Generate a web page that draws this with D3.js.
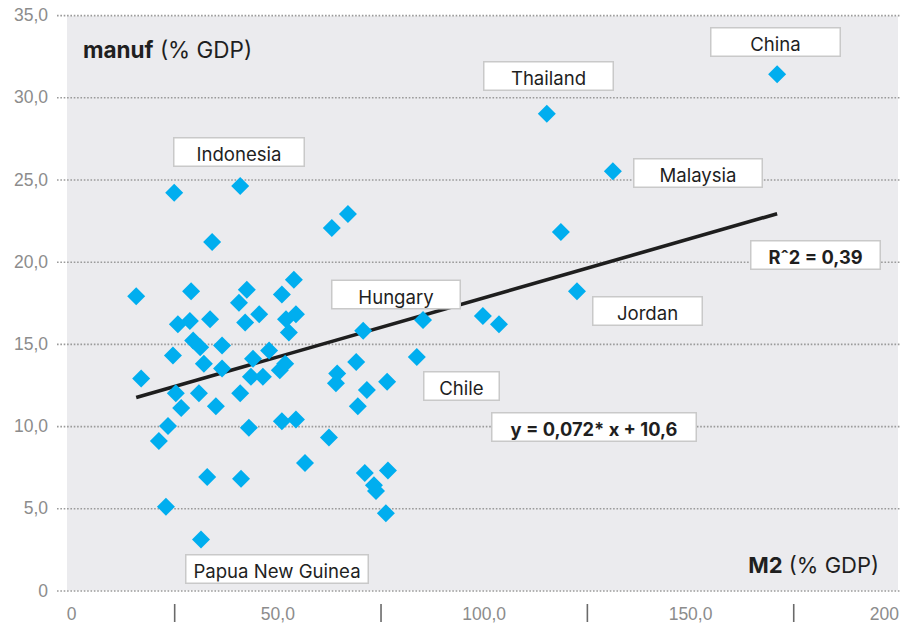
<!DOCTYPE html>
<html>
<head>
<meta charset="utf-8">
<script src="https://cdn.jsdelivr.net/npm/d3@7"></script>
<style>
  html, body { margin: 0; padding: 0; background: #ffffff; }
  svg { display: block; font-family: Inter, Roboto, "DejaVu Sans", sans-serif; }
</style>
</head>
<body>
<svg id="chart" width="914" height="628"></svg>
<script>
// ---- Data (M2 % GDP vs manufacturing % GDP) ----
const m2 = [15.8, 17.0, 21.3, 23.0, 23.5, 25.0, 24.7, 25.4, 25.9, 26.7,
            28.8, 29.1, 29.6, 31.0, 31.3, 32.2, 33.0, 33.7, 34.2, 35.1,
            36.6, 36.6, 40.7, 41.0, 41.0, 41.2, 42.2, 42.6, 43.1, 43.6,
            44.1, 45.6, 46.5, 48.0, 50.6, 51.9, 51.1, 51.1, 52.1, 52.8,
            54.0, 54.5, 54.5, 56.7, 62.5, 63.2, 64.2, 64.5, 67.1, 69.1,
            69.5, 70.8, 71.2, 71.7, 73.4, 73.9, 76.3, 76.6, 76.8, 83.8,
            85.3, 99.8, 103.7, 115.3, 118.7, 122.6, 131.3, 171.1, 31.5];
const manuf = [17.9, 12.9, 9.1, 5.1, 10.0, 24.2, 14.3, 12.0, 16.2, 11.1,
               16.4, 18.2, 15.2, 12.0, 14.8, 13.8, 6.9, 16.5, 21.2, 11.2,
               14.9, 13.5, 17.5, 24.6, 12.0, 6.8, 16.3, 18.3, 9.9, 13.0,
               14.1, 16.8, 13.0, 14.6, 13.4, 13.8, 18.0, 10.3, 16.5, 15.7,
               18.9, 16.8, 10.4, 7.75, 9.3, 22.05, 12.6, 13.2, 22.9, 13.9,
               11.2, 15.8, 7.15, 12.2, 6.4, 6.05, 4.7, 12.7, 7.3, 14.2,
               16.45, 16.7, 16.2, 29.0, 21.8, 18.2, 25.5, 31.4, 3.1];
const fitSlope = 0.072;
const fitIntercept = 10.6;
const yTicks = [0, 5, 10, 15, 20, 25, 30, 35];
const xLabelTicks = [0, 50, 100, 150, 200];
const xLabelText = ["0", "50,0", "100,0", "150,0", "200"];
const xMarkTicks = [25, 75, 125, 175];
const labelTexts = ["Indonesia", "Papua New Guinea", "Hungary", "Chile", "Thailand",
                    "China", "Malaysia", "Jordan"];
const statTexts = ["R\u02C62 = 0,39", "y = 0,072* x + 10,6"];

// ---- Layout ----
const svg = d3.select("#chart");
const x = d3.scaleLinear().domain([0, 200]).range([71, 896.4]);
const y = d3.scaleLinear().domain([0, 35]).range([590.5, 15.1]);

// plot background
svg.append("rect")
  .attr("x", 67).attr("y", y(35) + 1)
  .attr("width", 898 - 67).attr("height", y(0) - y(35) - 1)
  .attr("fill", "#ebebee");

// y axis with dotted gridlines
const gridLeft = 57, gridRight = 900;
const yAxis = d3.axisLeft(y)
  .tickValues(yTicks)
  .tickSize(-(gridRight - gridLeft))
  .tickPadding(9)
  .tickFormat(v => v === 0 ? "0" : d3.format(".1f")(v).replace(".", ","));
const gy = svg.append("g").attr("transform", `translate(${gridLeft},0)`).call(yAxis);
gy.select(".domain").remove();
gy.selectAll(".tick line")
  .attr("stroke", "#9a9a9a").attr("stroke-width", 1.6)
  .attr("stroke-dasharray", "1.6,1.75");
gy.selectAll(".tick text")
  .attr("fill", "#8c8c8c").attr("font-size", 17.5).attr("font-weight", 300);

// x axis labels
const xAxisLabels = d3.axisBottom(x)
  .tickValues(xLabelTicks).tickSize(0).tickPadding(17.5)
  .tickFormat((d, i) => xLabelText[i]);
const gx = svg.append("g").attr("transform", `translate(0,${y(0)})`).call(xAxisLabels);
gx.select(".domain").remove();
gx.selectAll(".tick text")
  .attr("fill", "#8c8c8c").attr("font-size", 17.5).attr("font-weight", 300);
gx.selectAll(".tick").filter(d => d === 200).select("text")
  .attr("text-anchor", "end").attr("x", 2);

// x axis tick marks (between labels)
const xAxisMarks = d3.axisBottom(x).tickValues(xMarkTicks).tickSize(18).tickFormat("");
const gm = svg.append("g").attr("transform", "translate(0,604)").call(xAxisMarks);
gm.select(".domain").remove();
gm.selectAll(".tick line").attr("stroke", "#6a6a6a").attr("stroke-width", 1.6);

// regression line
const xMin = d3.min(m2), xMax = d3.max(m2);
svg.append("line")
  .attr("x1", x(xMin)).attr("y1", y(fitSlope * xMin + fitIntercept))
  .attr("x2", x(xMax)).attr("y2", y(fitSlope * xMax + fitIntercept))
  .attr("stroke", "#1e1e1e").attr("stroke-width", 3.6);

// points (diamonds)
const pts = m2.map((v, i) => ({ x: v, y: manuf[i] }));
const diamond = d3.symbol().type(d3.symbolSquare).size(162);
svg.append("g").selectAll("path").data(pts).join("path")
  .attr("d", diamond)
  .attr("transform", d => `translate(${x(d.x)},${y(d.y)}) rotate(45)`)
  .attr("fill", "#00aeef");

// annotation boxes (pixel layout)
const boxLayout = [
  { t: labelTexts[0], cx: 239, cy: 152, w: 132 },
  { t: labelTexts[1], cx: 277, cy: 569, w: 184 },
  { t: labelTexts[2], cx: 396, cy: 294.5, w: 130 },
  { t: labelTexts[3], cx: 461.5, cy: 386, w: 77 },
  { t: labelTexts[4], cx: 548.5, cy: 76, w: 131 },
  { t: labelTexts[5], cx: 775.5, cy: 42, w: 131 },
  { t: labelTexts[6], cx: 698, cy: 173, w: 130 },
  { t: labelTexts[7], cx: 647.5, cy: 311, w: 111 },
  { t: statTexts[0], cx: 815.5, cy: 255, w: 131, bold: true },
  { t: statTexts[1], cx: 594, cy: 427, w: 206, bold: true }
];
const boxes = svg.append("g").selectAll("g").data(boxLayout).join("g")
  .attr("transform", d => `translate(${d.cx},${d.cy})`);
boxes.append("rect")
  .attr("x", d => -d.w / 2 + 0.75).attr("y", -14.25)
  .attr("width", d => d.w - 1.5).attr("height", 28.5)
  .attr("fill", "#ffffff").attr("stroke", "#c9c9c9").attr("stroke-width", 1.5);
boxes.append("text")
  .attr("text-anchor", "middle").attr("y", 9.2)
  .attr("font-size", d => d.bold ? 18.3 : 18.6)
  .attr("font-weight", d => d.bold ? 700 : 400)
  .attr("fill", "#1f1f1f")
  .text(d => d.t);

// axis titles
const yt = svg.append("text").attr("x", 83).attr("y", 58)
  .attr("font-size", 22.5).attr("fill", "#1f1f1f");
yt.append("tspan").attr("font-weight", 700).text("manuf");
yt.append("tspan").attr("font-weight", 400).text(" (% GDP)");

const xt = svg.append("text").attr("x", 879).attr("y", 573)
  .attr("text-anchor", "end").attr("font-size", 22).attr("fill", "#1f1f1f");
xt.append("tspan").attr("font-weight", 700).text("M2");
xt.append("tspan").attr("font-weight", 400).text(" (% GDP)");
</script>
</body>
</html>
